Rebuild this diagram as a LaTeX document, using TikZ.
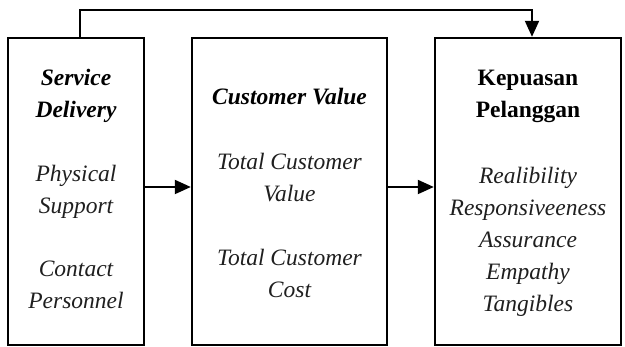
\documentclass[tikz,border=0pt]{standalone}
\usepackage{fontspec}
\setmainfont{Liberation Serif}
\usetikzlibrary{arrows.meta,calc}
\begin{document}
\begin{tikzpicture}[x=1pt,y=-1pt,
  box/.style={draw,line width=2.4pt,minimum width=#1,minimum height=307pt,inner sep=0pt},
  txt/.style={align=center,font=\fontsize{23.5}{32}\selectfont\itshape,inner sep=0pt,text=black!88},
  hd/.style={align=center,font=\fontsize{23.5}{32}\selectfont\bfseries\itshape,inner sep=0pt},
  hdu/.style={align=center,font=\fontsize{23.5}{32}\selectfont\bfseries,inner sep=0pt},
  arr/.style={line width=2pt,-{Triangle[length=16pt,width=14pt]}}]
\useasboundingbox (0,0) rectangle (625,347);
\node[box=136pt] (b1) at (76,191.5) {};
\node[box=195pt] (b2) at (289.5,191.5) {};
\node[box=186pt] (b3) at (528,191.5) {};
\node[hd] (t1) at (76,96) {Service\\Delivery};
\node[txt] (t2) at (76,192) {Physical\\Support};
\node[txt] (t3) at (76,285) {Contact\\Personnel};
\node[hd] (t4) at (289.5,97) {Customer Value};
\node[txt] (t5) at (289.5,178) {Total Customer\\Value};
\node[txt] (t6) at (289.5,273) {Total Customer\\Cost};
\node[hdu] (t7) at (528,96) {Kepuasan\\Pelanggan};
\node[txt] (t8) at (528,242) {Realibility\\Responsiveeness\\Assurance\\Empathy\\Tangibles};
\draw[arr] (b1.east |- 0,187) -- (b2.west |- 0,187);
\draw[arr] (b2.east |- 0,187) -- (b3.west |- 0,187);
\coordinate (c1) at (80,10);
\coordinate (c2) at (532,10);
\draw[arr] (b1.north -| c1) -- (c1) -- (c2) -- (b3.north -| c2);
\end{tikzpicture}
\end{document}
